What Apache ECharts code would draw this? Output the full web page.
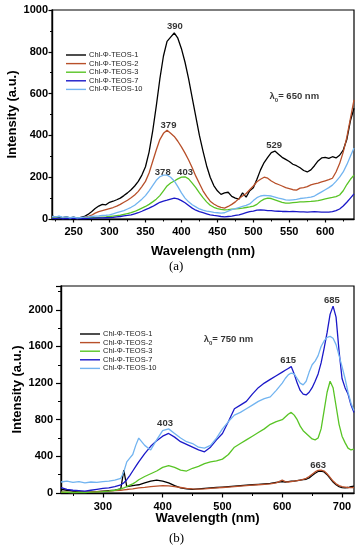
<!DOCTYPE html>
<html><head><meta charset="utf-8">
<script src="https://cdn.jsdelivr.net/npm/echarts@6/dist/echarts.min.js"></script>
<style>html,body{margin:0;padding:0;background:#fff}#c{width:358px;height:550px}</style>
</head><body><div id="c"></div>
<script>
// ---------- Panel (a): excitation at 650 nm ----------
const waveA = [220,225,230,235,240,245,250,255,260,265,270,275,280,285,290,295,300,305,310,315,320,325,330,335,340,345,350,355,360,365,370,375,380,385,390,395,400,405,410,415,420,425,430,435,440,445,450,455,460,465,470,475,480,485,490,495,500,505,510,515,520,525,530,535,540,545,550,555,560,565,570,575,580,585,590,595,600,605,610,615,620,625,630,635,640];
const teos1A = [15,8,12,6,10,5,9,4,8,12,
 22,35,50,62,70,68,80,85,92,100,
 112,125,140,158,180,210,250,320,420,540,
 670,780,850,870,890,865,815,750,670,580,
 490,400,325,255,200,160,135,118,125,128,
 108,100,95,125,105,135,150,190,235,270,
 295,318,325,310,295,285,275,262,255,245,
 232,225,235,255,278,292,295,290,298,292,
 305,330,380,470,530];
const teos2A = [8,5,10,4,6,3,7,2,5,8,
 12,18,28,35,40,45,50,55,62,70,
 80,90,102,115,132,155,180,220,275,330,
 380,410,425,410,395,372,345,315,282,245,
 205,170,135,108,85,72,62,56,52,60,
 70,82,98,110,122,140,158,178,190,200,
 195,182,172,165,158,150,145,140,138,148,
 150,155,163,168,172,178,183,188,195,225,
 265,320,390,480,570];
const teos3A = [6,4,8,3,5,2,4,3,5,4,
 5,6,7,8,9,10,12,14,16,18,
 22,26,30,36,44,52,60,70,82,95,
 112,135,158,172,182,192,200,202,192,172,
 150,125,102,82,66,56,50,46,44,45,
 47,48,50,52,55,58,62,70,85,95,
 100,98,92,86,80,76,76,78,80,82,
 82,83,84,86,88,92,96,100,103,107,
 115,135,165,190,210];
const teos7A = [4,2,5,1,3,2,4,1,3,2,
 3,4,4,5,5,6,7,8,10,12,
 15,17,20,25,30,37,45,52,60,70,
 80,86,90,95,100,96,88,78,65,52,
 42,35,30,25,20,17,15,12,10,12,
 14,17,20,25,30,35,38,42,43,42,
 40,40,38,37,36,36,35,36,35,34,
 34,33,34,35,34,33,33,33,35,40,
 48,62,80,100,120];
const teos10A = [12,10,14,8,10,6,9,5,7,9,
 10,12,14,15,17,18,20,25,30,35,
 40,48,56,66,80,95,112,135,160,185,
 202,210,210,200,182,155,125,100,82,68,
 58,48,42,38,35,32,30,28,30,38,
 45,50,55,60,65,72,88,102,110,113,
 112,110,105,100,96,92,90,92,94,98,
 100,102,105,110,120,130,140,150,162,180,
 200,225,260,300,340];

// ---------- Panel (b): excitation at 750 nm ----------
const waveB = [230,240,250,260,270,280,290,300,310,320,330,335,340,345,350,355,360,370,380,390,400,410,420,430,440,450,460,470,480,490,500,510,520,530,540,550,560,570,580,590,600,605,610,615,620,625,630,635,640,645,650,655,660,665,670,675,680,685,690,695,700,705,710,715,720];
const teos1B = [40,30,20,15,10,10,15,20,25,30,
 45,250,70,75,80,85,90,110,130,140,
 130,110,80,55,45,40,45,50,55,60,
 65,70,75,80,85,90,95,100,105,115,
 125,120,125,130,130,135,140,145,150,165,
 190,215,235,240,230,200,160,120,90,70,
 58,55,60,70,75];
const teos2B = [10,8,5,8,10,12,15,18,20,25,
 30,35,38,42,45,50,55,62,70,75,
 80,78,70,60,50,45,42,45,50,55,
 60,65,70,75,80,85,90,95,100,110,
 140,125,120,125,130,135,140,150,160,180,
 205,230,248,250,240,210,170,130,100,80,
 70,65,60,58,60];
const teos3B = [10,8,5,8,5,10,12,15,20,30,
 45,55,70,85,100,120,145,180,210,240,
 280,300,280,250,240,270,290,320,340,350,
 370,420,500,540,580,620,660,700,750,780,
 800,830,860,880,850,800,730,680,650,620,
 590,580,600,700,900,1100,1220,1150,950,750,
 620,550,490,470,480];
const teos7B = [60,40,30,25,20,30,40,50,55,70,
 90,110,145,190,240,290,340,430,510,570,
 620,650,610,560,530,500,470,450,500,580,
 650,780,920,960,1000,1080,1150,1200,1240,1280,
 1320,1340,1360,1380,1300,1200,1120,1080,1070,1100,
 1150,1220,1300,1420,1580,1750,1950,2040,1920,1550,
 1250,1150,1080,960,880];
const teos10B = [120,130,115,125,110,120,115,125,130,140,
 160,230,340,380,420,520,600,520,470,580,
 680,700,650,600,560,540,500,490,520,600,
 700,780,850,880,920,960,1000,1030,1050,1120,
 1200,1250,1290,1310,1300,1250,1200,1180,1220,1320,
 1400,1440,1500,1600,1660,1700,1710,1690,1620,1500,
 1380,1250,1100,980,900];

// ---------- Axis ticks and annotations ----------
const xLabelsA = [250,300,350,400,450,500,550,600];
const xMinorA = [225,275,325,375,425,475,525,575,625];
const xLabelsB = [300,400,500,600,700];
const xMinorB = [250,350,450,550,650];
const peaksA = [{name:'390', value:[391,920]},{name:'379', value:[382,450]},{name:'378', value:[374,222]},{name:'403', value:[405,222]},{name:'529', value:[529,354]}];
const peaksB = [{name:'685', value:[683,2099]},{name:'615', value:[610,1453]},{name:'403', value:[404,755]},{name:'663', value:[660,297]}];
const lambdaA = [{name:'650', value:[557,585]}];
const lambdaB = [{name:'750', value:[510,1682]}];

const names = ['Chl-\u03A6-TEOS-1','Chl-\u03A6-TEOS-2','Chl-\u03A6-TEOS-3','Chl-\u03A6-TEOS-7','Chl-\u03A6-TEOS-10'];
const colors = ['#000000','#b8502a','#58c425','#1a18c8','#72b4f0'];

const FONT = 'Liberation Sans, Arial, sans-serif';
const pair = (xs, ys) => xs.map((x, i) => [x, ys[i]]);

function lineSeries(idx, xs, ys, axis) {
  return {
    type: 'line', name: names[idx], xAxisIndex: axis, yAxisIndex: axis,
    data: pair(xs, ys), symbol: 'none', showSymbol: false, smooth: false,
    lineStyle: {color: colors[idx], width: 1.3}, itemStyle: {color: colors[idx]},
    animation: false, silent: true
  };
}
function labelSeries(data, axis, lam) {
  return {
    type: 'scatter', xAxisIndex: axis, yAxisIndex: axis, data: data, symbolSize: 0,
    silent: true, animation: false,
    label: lam ? {
      show: true, position: 'inside',
      formatter: p => '{l|\u03BB}{s|0}{l|= ' + p.name + ' nm}',
      rich: {
        l: {fontFamily: FONT, fontWeight: 'bold', fontSize: 9.5, color: '#000', lineHeight: 14},
        s: {fontFamily: FONT, fontWeight: 'bold', fontSize: 6, color: '#000', verticalAlign: 'bottom', lineHeight: 14}
      }
    } : {
      show: true, position: 'inside', formatter: '{b}',
      fontFamily: FONT, fontWeight: 'bold', fontSize: 9.5, color: '#000'
    }
  };
}

const axLine = {show: true, lineStyle: {color: '#000', width: 1.4}};
const tickLabel = {fontFamily: FONT, fontWeight: 'bold', fontSize: 11, color: '#000', formatter: v => String(v)};
const nameStyle = {fontFamily: FONT, fontWeight: 'bold', fontSize: 13, color: '#000'};

const option = {
  animation: false,
  backgroundColor: '#fff',
  grid: [
    {left: 52, top: 10, width: 302, height: 209, show: true, borderColor: '#000', borderWidth: 1.2, backgroundColor: 'transparent', containLabel: false, outerBoundsMode: 'none'},
    {left: 61, top: 286, width: 293, height: 207, show: true, borderColor: '#000', borderWidth: 1.2, backgroundColor: 'transparent', containLabel: false, outerBoundsMode: 'none'}
  ],
  xAxis: [
    {gridIndex: 0, type: 'value', min: 220, max: 640, position: 'bottom',
     axisLine: axLine, splitLine: {show: false},
     axisTick: {show: true, length: 3.5, customValues: xLabelsA, lineStyle: {color: '#000', width: 1.2}},
     axisLabel: Object.assign({customValues: xLabelsA, margin: 7}, tickLabel),
     name: 'Wavelength (nm)', nameLocation: 'middle', nameGap: 26, nameMoveOverlap: false, nameTextStyle: nameStyle},
    {gridIndex: 1, type: 'value', min: 230, max: 720, position: 'bottom',
     axisLine: axLine, splitLine: {show: false},
     axisTick: {show: true, length: 4.5, customValues: xLabelsB, lineStyle: {color: '#000', width: 1.2}},
     axisLabel: Object.assign({customValues: xLabelsB, margin: 8}, tickLabel),
     name: 'Wavelength (nm)', nameLocation: 'middle', nameGap: 19, nameMoveOverlap: false, nameTextStyle: nameStyle},
    {gridIndex: 0, type: 'value', min: 220, max: 640, position: 'bottom',
     axisLine: {show: false}, splitLine: {show: false}, axisLabel: {show: false},
     axisTick: {show: true, length: 2.5, customValues: xMinorA, lineStyle: {color: '#000', width: 1}}},
    {gridIndex: 1, type: 'value', min: 230, max: 720, position: 'bottom',
     axisLine: {show: false}, splitLine: {show: false}, axisLabel: {show: false},
     axisTick: {show: true, length: 3, customValues: xMinorB, lineStyle: {color: '#000', width: 1}}}
  ],
  yAxis: [
    {gridIndex: 0, type: 'value', min: 0, max: 1000, interval: 200,
     axisLine: axLine, splitLine: {show: false},
     axisTick: {show: true, length: 3.5, lineStyle: {color: '#000', width: 1.2}},
     minorTick: {show: true, splitNumber: 2, length: 2, lineStyle: {color: '#000', width: 1}},
     axisLabel: Object.assign({margin: 4}, tickLabel),
     name: 'Intensity (a.u.)', nameLocation: 'middle', nameGap: 33, nameMoveOverlap: false, nameTextStyle: nameStyle},
    {gridIndex: 1, type: 'value', min: 0, max: 2260, interval: 400,
     axisLine: axLine, splitLine: {show: false},
     axisTick: {show: true, length: 5, lineStyle: {color: '#000', width: 1.2}},
     minorTick: {show: true, splitNumber: 2, length: 3, lineStyle: {color: '#000', width: 1}},
     axisLabel: Object.assign({margin: 8, showMaxLabel: false}, tickLabel),
     name: 'Intensity (a.u.)', nameLocation: 'middle', nameGap: 37, nameMoveOverlap: false, nameTextStyle: nameStyle}
  ],
  legend: [
    {data: names, orient: 'vertical', left: 66, top: 51, padding: 0, itemGap: 0.6,
     itemWidth: 20, itemHeight: 10, icon: 'path://M0,4.3 L20,4.3 L20,5.7 L0,5.7 Z',
     textStyle: {fontFamily: FONT, fontSize: 7.5, color: '#222', padding: [0,0,0,-2]}, selectedMode: false},
    {data: names, orient: 'vertical', left: 80, top: 330, padding: 0, itemGap: 0.6,
     itemWidth: 20, itemHeight: 10, icon: 'path://M0,4.3 L20,4.3 L20,5.7 L0,5.7 Z',
     textStyle: {fontFamily: FONT, fontSize: 7.5, color: '#222', padding: [0,0,0,-2]}, selectedMode: false}
  ],
  graphic: [
    {type: 'text', left: 169, top: 260, style: {text: '(a)', font: '13px "Liberation Serif", "DejaVu Serif", serif', fill: '#000'}},
    {type: 'text', left: 169, top: 532, style: {text: '(b)', font: '13px "Liberation Serif", "DejaVu Serif", serif', fill: '#000'}}
  ],
  series: [
    lineSeries(0, waveA, teos1A, 0),
    lineSeries(1, waveA, teos2A, 0),
    lineSeries(2, waveA, teos3A, 0),
    lineSeries(3, waveA, teos7A, 0),
    lineSeries(4, waveA, teos10A, 0),
    lineSeries(0, waveB, teos1B, 1),
    lineSeries(1, waveB, teos2B, 1),
    lineSeries(2, waveB, teos3B, 1),
    lineSeries(3, waveB, teos7B, 1),
    lineSeries(4, waveB, teos10B, 1),
    labelSeries(peaksA, 0, false),
    labelSeries(peaksB, 1, false),
    labelSeries(lambdaA, 0, true),
    labelSeries(lambdaB, 1, true)
  ]
};
const chart = echarts.init(document.getElementById('c'), null, {renderer: 'canvas'});
chart.setOption(option);
</script>
</body></html>
